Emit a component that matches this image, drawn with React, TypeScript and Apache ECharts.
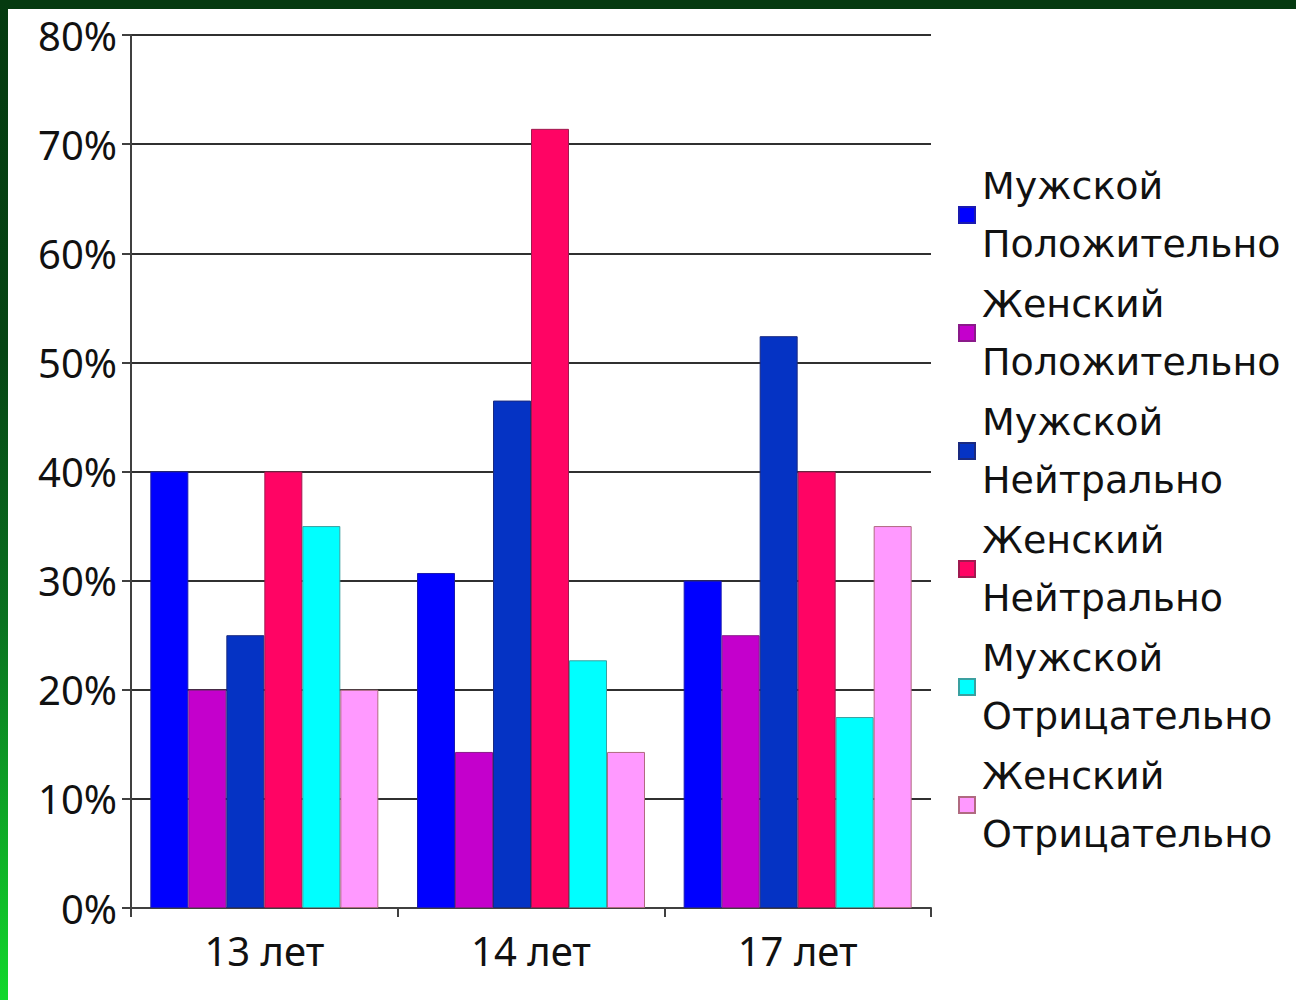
import React, { useEffect, useRef } from "react";
import * as echarts from "echarts";

const categories = ["13 лет", "14 лет", "17 лет"];
const seriesNames = [
  "Мужской\nПоложительно",
  "Женский\nПоложительно",
  "Мужской\nНейтрально",
  "Женский\nНейтрально",
  "Мужской\nОтрицательно",
  "Женский\nОтрицательно",
];
const malePositive = [40, 30.7, 30];
const femalePositive = [20, 14.3, 25];
const maleNeutral = [25, 46.5, 52.4];
const femaleNeutral = [40, 71.4, 40];
const maleNegative = [35, 22.7, 17.5];
const femaleNegative = [20, 14.3, 35];
const seriesData = [malePositive, femalePositive, maleNeutral, femaleNeutral, maleNegative, femaleNegative];
const colors = ["#0000ff", "#c400cc", "#0533c4", "#ff0464", "#00ffff", "#ff99ff"];
const borders = ["#1a1ab0", "#8a1a8a", "#1a2a80", "#a01a50", "#3aa0a0", "#b06a80"];

export default function App() {
  const ref = useRef<HTMLDivElement>(null);
  useEffect(() => {
    if (!ref.current) return;
    const chart = echarts.init(ref.current, undefined, { renderer: "svg" });
    const font = "'Noto Sans', sans-serif";
    const legendFont = "'DejaVu Sans', sans-serif";
    chart.setOption({
      animation: false,
      backgroundColor: "#ffffff",
      textStyle: { fontFamily: font },
      graphic: [
        { type: "rect", shape: { x: 0, y: 0, width: 1296, height: 9 }, style: { fill: "#053a10" }, z: 100 },
        {
          type: "rect",
          shape: { x: 0, y: 0, width: 8, height: 1000 },
          style: {
            fill: new echarts.graphic.LinearGradient(0, 0, 0, 1, [
              { offset: 0, color: "#053a10" },
              { offset: 0.35, color: "#064514" },
              { offset: 0.62, color: "#0a7220" },
              { offset: 1, color: "#12d82c" },
            ]),
          },
          z: 100,
        },
      ],
      legend: {
        orient: "vertical",
        left: 953,
        top: 152,
        itemWidth: 16,
        itemHeight: 16,
        itemGap: 2,
        icon: "rect",
        textStyle: { fontSize: 38, lineHeight: 58, color: "#111", fontFamily: legendFont, padding: [0, 0, 0, 2] },
        data: seriesNames,
      },
      grid: { left: 131, right: 365, top: 35, bottom: 92, containLabel: false },
      xAxis: {
        type: "category",
        data: categories,
        axisLine: { lineStyle: { color: "#404040", width: 2 } },
        axisTick: { show: true, length: 9, lineStyle: { color: "#404040", width: 2 } },
        axisLabel: { fontSize: 40, color: "#111", margin: 22, fontFamily: font },
      },
      yAxis: {
        type: "value",
        min: 0,
        max: 80,
        interval: 10,
        axisLine: { show: true, lineStyle: { color: "#404040", width: 2 } },
        axisTick: { show: true, length: 9, lineStyle: { color: "#404040", width: 2 } },
        splitLine: { lineStyle: { color: "#303030", width: 2 } },
        axisLabel: { formatter: "{value}%", fontSize: 40, color: "#111", margin: 14, fontFamily: font },
      },
      series: seriesNames.map((name, i) => ({
        name,
        type: "bar",
        data: seriesData[i],
        barGap: "0%",
        barCategoryGap: "14.5%",
        itemStyle: { color: colors[i], borderColor: borders[i], borderWidth: 1 },
      })),
    });
    return () => chart.dispose();
  }, []);
  return <div ref={ref} style={{ position: "fixed", left: 0, top: 0, width: 1296, height: 1000 }} />;
}
